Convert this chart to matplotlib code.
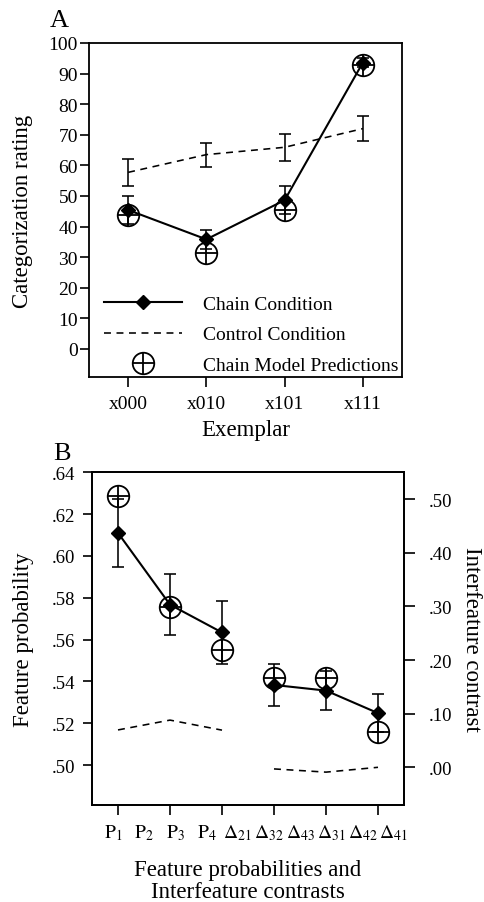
import numpy as np
import matplotlib
matplotlib.use("Agg")
import matplotlib.pyplot as plt
from matplotlib.ticker import FuncFormatter
from matplotlib.legend_handler import HandlerTuple

plt.rcParams['font.family'] = ['Liberation Serif', 'DejaVu Serif']
plt.rcParams['mathtext.fontset'] = 'stix'
plt.rcParams['lines.scale_dashes'] = False

# ---------------- Panel A data ----------------
exemplars = ['x000', 'x010', 'x101', 'x111']
chain_mean = [45.4, 35.8, 48.6, 93.6]
chain_err = [4.6, 3.1, 4.5, 1.5]
control_mean = [57.7, 63.5, 65.9, 72.0]
control_err = [4.4, 3.9, 4.5, 4.2]
model_pred = [43.8, 31.4, 45.4, 92.9]

# ---------------- Panel B data ----------------
b_labels = [r'$\mathrm{P}_1$', r'$\mathrm{P}_2$', r'$\mathrm{P}_3$', r'$\mathrm{P}_4$',
            r'$\Delta_{21}$', r'$\Delta_{32}$', r'$\Delta_{43}$', r'$\Delta_{31}$',
            r'$\Delta_{42}$', r'$\Delta_{41}$']
feat_mean = [0.611, 0.5767, 0.5634]
feat_err = [0.0163, 0.0145, 0.0152]
feat_model = [0.6288, 0.5754, 0.5551]
feat_control = [0.5168, 0.5215, 0.5167]
contr_mean = [0.1535, 0.143, 0.101]
contr_err = [0.040, 0.036, 0.035]
contr_model = [0.166, 0.166, 0.0665]
contr_control = [-0.003, -0.009, 0.000]

fig = plt.figure(figsize=(4.84, 9.03), dpi=100)

LW = 1.15
CAP = 4.3
MS_D = 7
MS_C = 15.5

def style_axes(ax):
    for s in ax.spines.values():
        s.set_linewidth(1.3)

# ================= Panel A =================
axA = fig.add_axes([0.1839, 0.5814, 0.6467, 0.3699])
style_axes(axA)
xa = np.arange(len(exemplars))
axA.errorbar(xa, control_mean, yerr=control_err, color='k', lw=LW, dashes=(5, 4),
             capsize=CAP, capthick=LW, elinewidth=LW)
axA.errorbar(xa, chain_mean, yerr=chain_err, color='k', lw=1.5, marker='D', ms=MS_D,
             capsize=CAP, capthick=LW, elinewidth=LW)
axA.plot(xa, model_pred, 'o', mfc='none', mec='k', ms=MS_C, mew=1.3)
axA.plot(xa, model_pred, '+', color='k', ms=MS_C, mew=1.3)

axA.set_xlim(-0.5, 3.5)
axA.set_ylim(-9.2, 100)
axA.set_yticks(np.arange(0, 101, 10))
axA.set_xticks(xa)
axA.set_xticklabels(exemplars)
axA.tick_params(axis='y', direction='out', length=6.5, width=1.2, labelsize=14, pad=1.5)
axA.tick_params(axis='x', direction='out', length=7, width=1.2, labelsize=14, pad=6)
axA.set_ylabel('Categorization rating', fontsize=16.5, labelpad=11)
axA.set_xlabel('Exemplar', fontsize=16.5, labelpad=5)

hl1, = axA.plot([], [], color='k', lw=1.5, marker='D', ms=MS_D)
hl2, = axA.plot([], [], color='k', lw=LW, dashes=(5, 4))
hc, = axA.plot([], [], 'o', mfc='none', mec='k', ms=MS_C, mew=1.3)
hp, = axA.plot([], [], '+', color='k', ms=MS_C, mew=1.3)
axA.legend([hl1, hl2, (hc, hp)], ['Chain Condition', 'Control Condition', 'Chain Model Predictions'],
           handler_map={tuple: HandlerTuple(ndivide=1)},
           loc='lower left', bbox_to_anchor=(0.01, -0.025), frameon=False, fontsize=14,
           handlelength=4.0, handletextpad=1.1, labelspacing=0.65, borderaxespad=0.2)

fig.text(50 / 484, 1 - 27 / 903, 'A', fontsize=19, ha='left', va='baseline')

# ================= Panel B =================
axB = fig.add_axes([0.1901, 0.1074, 0.6446, 0.3685])
style_axes(axB)
axB2 = axB.twinx()
for s in axB2.spines.values():
    s.set_linewidth(1.3)

xf = np.arange(3)
xc = np.arange(3, 6)
axB.plot(xf, feat_control, color='k', lw=LW, dashes=(5, 4))
axB.errorbar(xf, feat_mean, yerr=feat_err, color='k', lw=1.5, marker='D', ms=MS_D,
             capsize=CAP, capthick=LW, elinewidth=LW)
axB.plot(xf, feat_model, 'o', mfc='none', mec='k', ms=MS_C, mew=1.3)
axB.plot(xf, feat_model, '+', color='k', ms=MS_C, mew=1.3)

axB2.plot(xc, contr_control, color='k', lw=LW, dashes=(5, 4))
axB2.errorbar(xc, contr_mean, yerr=contr_err, color='k', lw=1.5, marker='D', ms=MS_D,
              capsize=CAP, capthick=LW, elinewidth=LW)
axB2.plot(xc, contr_model, 'o', mfc='none', mec='k', ms=MS_C, mew=1.3)
axB2.plot(xc, contr_model, '+', color='k', ms=MS_C, mew=1.3)

axB.set_xlim(-0.5, 5.5)
axB.set_ylim(0.4809, 0.64)
axB2.set_ylim(-0.0703, 0.550)
fmt = FuncFormatter(lambda v, p: f'{v:.2f}'.replace('0.', '.', 1) if v >= 0 else f'{v:.2f}')
axB.set_yticks(np.arange(0.50, 0.641, 0.02))
axB.yaxis.set_major_formatter(fmt)
axB2.set_yticks(np.arange(0.0, 0.51, 0.10))
axB2.yaxis.set_major_formatter(fmt)
axB.set_xticks(np.arange(6))
axB.set_xticklabels([])
axB.tick_params(axis='y', direction='out', length=6.5, width=1.2, labelsize=13.5, pad=5.5)
axB.tick_params(axis='x', direction='out', length=7.5, width=1.2)
axB2.tick_params(axis='y', direction='out', length=8, width=1.2, labelsize=13.5, pad=10)

label_pos = np.linspace(-0.1, 5.3, len(b_labels))
for xp, lab in zip(label_pos, b_labels):
    axB.text(xp, -0.096, lab, transform=axB.get_xaxis_transform(), ha='center',
             va='baseline', fontsize=14)

axB.set_ylabel('Feature probability', fontsize=16.5, labelpad=13)
axB2.set_ylabel('Interfeature contrast', fontsize=16.5, rotation=270, labelpad=21)
fig.text(248 / 484, 1 - 898 / 903, 'Feature probabilities and\nInterfeature contrasts',
         fontsize=16.5, ha='center', va='baseline', linespacing=1.05)

fig.text(53 / 484, 1 - 460 / 903, 'B', fontsize=19, ha='left', va='baseline')

fig.savefig('out.png', dpi=100)
